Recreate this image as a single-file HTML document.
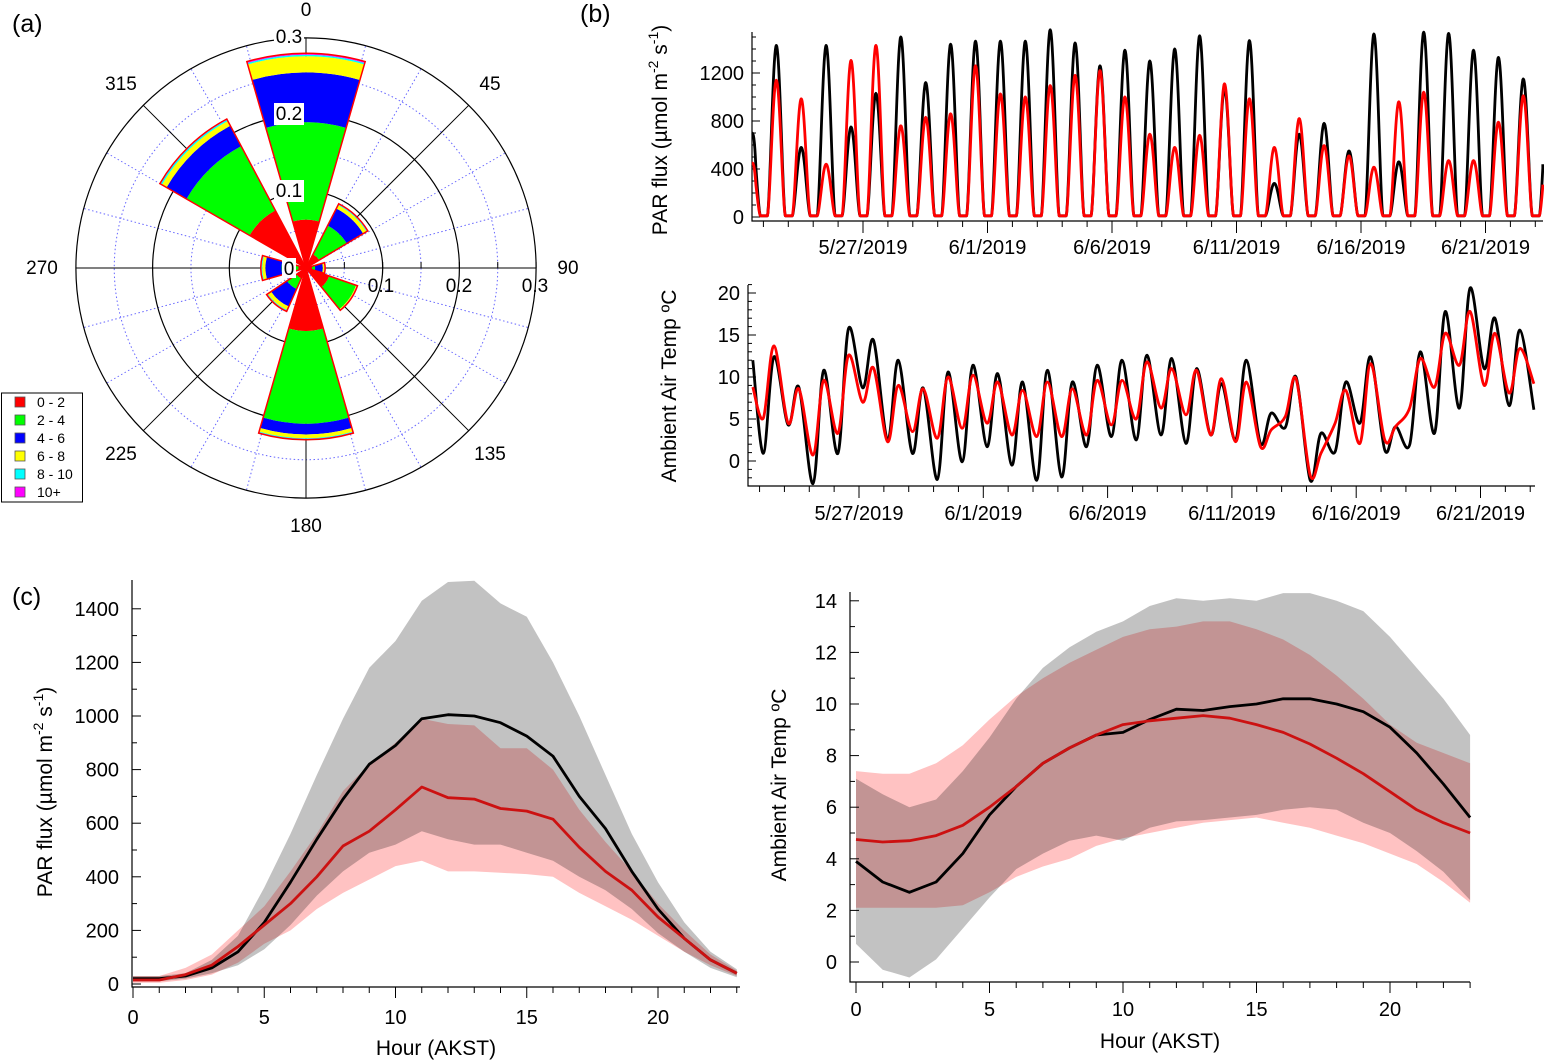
<!DOCTYPE html>
<html><head><meta charset="utf-8"><style>
html,body{margin:0;padding:0;background:#fff}
svg{display:block;font-family:"Liberation Sans",sans-serif}
</style></head><body>
<svg id="s" width="1544" height="1060" viewBox="0 0 1544 1060">
<g id="rose"></g>
<g id="par"></g>
<g id="tmp"></g>
<g id="dpar"></g>
<g id="dtmp"></g>
<text x="12" y="32" font-size="25">(a)</text>
<text x="580" y="22" font-size="25">(b)</text>
<text x="12" y="605" font-size="25">(c)</text>
</svg>
<script>
// ---------- DATA ----------
const roseAngles=[0,316,43,90,125,180,220,270];
const roseBin02=[0.063,0.085,0.02,0.008,0.032,0.082,0.015,0.01];
const roseBin24=[0.19,0.18,0.062,0.012,0.069,0.203,0.03,0.032];
const roseBin46=[0.255,0.21,0.087,0.022,0.069,0.217,0.055,0.053];
const roseBin68=[0.276,0.217,0.092,0.024,0.07,0.222,0.06,0.057];
const roseBin810=[0.278,0.219,0.093,0.024,0.07,0.223,0.061,0.058];
const roseBin10p=[0.28,0.22,0.094,0.025,0.071,0.224,0.062,0.059];
const roseLegend=["0 - 2","2 - 4","4 - 6","6 - 8","8 - 10","10+"];
const parBlackPeak=[1420,570,1420,740,1020,1490,1110,1430,1455,1455,1455,1550,1440,1250,1380,1290,1390,1500,1060,1460,270,680,770,540,1515,450,1530,1520,1380,1320,1140];
const parRedPeak=[1130,975,430,1295,1420,750,820,850,1250,1015,990,1085,1170,1210,990,680,570,670,1100,975,570,810,585,500,405,950,1030,460,460,780,1000];
const parEnds={blackStart:700,blackEnd:440,redStart:450,redEnd:270};
const tBlackMax=[12.4,8.8,10.8,15.8,14.4,12.0,8.7,10.6,11.4,10.4,9.4,10.8,9.4,11.4,12.0,12.6,12.2,11.0,9.2,12.0,5.7,10.0,3.3,9.4,12.4,4.1,13.0,17.8,20.6,17.0,15.6];
const tBlackMin=[0.9,4.3,-2.7,0.9,8.7,2.5,0.9,-2.2,-0.1,1.7,-0.5,-2.3,-1.9,1.7,2.9,2.5,3.1,2.1,3.1,2.5,2.1,4.0,-2.3,1.1,4.5,1.3,1.9,3.3,6.3,11.0,6.6];
const tRedMax=[13.7,8.6,9.6,12.6,11.1,9.0,8.6,10.0,10.2,9.4,8.4,9.4,8.6,9.6,9.6,11.8,11.0,10.8,9.8,9.4,3.7,9.8,0.9,8.4,11.6,4.1,12.2,15.2,17.8,15.2,13.4];
const tRedMin=[5.1,4.5,0.7,3.3,7.0,2.3,3.5,2.7,3.9,4.5,3.1,2.9,2.9,3.1,4.3,5.0,6.3,5.5,3.1,2.3,1.7,5.3,-1.7,4.5,2.1,2.5,6.3,8.8,11.4,9.0,8.1];
const tEnds={blackStart:12,blackEnd:6.1,redStart:8.8,redEnd:9.2};
const dateLabels=["5/27/2019","6/1/2019","6/6/2019","6/11/2019","6/16/2019","6/21/2019"];
const dateDays=[4,9,14,19,24,29];
const hours=[0,1,2,3,4,5,6,7,8,9,10,11,12,13,14,15,16,17,18,19,20,21,22,23];
const dParBlack=[20,20,30,60,120,230,380,540,690,820,890,990,1005,1000,975,925,850,700,580,420,280,170,90,40];
const dParRed=[15,15,35,70,140,220,300,400,515,570,650,735,695,690,655,645,615,510,420,350,250,170,90,40];
const dParGreyHi=[30,30,40,90,180,360,560,780,990,1180,1280,1430,1500,1505,1420,1370,1200,1000,780,560,380,230,120,55];
const dParGreyLo=[10,10,20,40,70,130,220,330,420,490,520,570,540,520,520,490,460,400,350,280,190,120,60,25];
const dParPinkHi=[30,30,60,110,200,290,420,560,720,820,900,990,970,965,880,880,800,650,530,420,300,200,110,50];
const dParPinkLo=[5,5,15,35,80,150,200,280,340,390,440,460,420,420,415,410,400,340,290,240,180,120,70,30];
const dParTicks=[0,200,400,600,800,1000,1200,1400];
const dTBlack=[3.9,3.1,2.7,3.1,4.2,5.7,6.8,7.7,8.3,8.8,8.9,9.4,9.8,9.75,9.9,10.0,10.2,10.2,10.0,9.7,9.1,8.1,6.9,5.6];
const dTRed=[4.75,4.65,4.7,4.9,5.3,6.0,6.8,7.7,8.3,8.8,9.2,9.35,9.45,9.55,9.45,9.2,8.9,8.45,7.9,7.3,6.6,5.9,5.4,5.0];
const dTGreyHi=[7.1,6.5,6.0,6.3,7.4,8.7,10.2,11.4,12.2,12.8,13.2,13.8,14.1,14.0,14.1,14.0,14.3,14.3,14.0,13.6,12.6,11.4,10.2,8.8];
const dTGreyLo=[0.7,-0.3,-0.6,0.1,1.3,2.5,3.6,4.2,4.7,4.9,4.7,5.2,5.45,5.5,5.6,5.7,5.9,6.0,5.9,5.4,5.0,4.3,3.5,2.4];
const dTPinkHi=[7.4,7.3,7.3,7.7,8.4,9.4,10.3,11.0,11.6,12.1,12.6,12.9,13.0,13.2,13.2,12.9,12.5,11.9,11.1,10.2,9.2,8.5,8.1,7.7];
const dTPinkLo=[2.1,2.1,2.1,2.1,2.2,2.7,3.3,3.7,4.0,4.5,4.8,5.0,5.2,5.4,5.5,5.6,5.4,5.2,4.9,4.6,4.2,3.8,3.1,2.3];
const dTTicks=[0,2,4,6,8,10,12,14];
const hourTicks=[0,5,10,15,20];

// ---------- HELPERS ----------
const NS="http://www.w3.org/2000/svg";
function mk(parent,tag,attrs){const e=document.createElementNS(NS,tag);for(const k in attrs)e.setAttribute(k,attrs[k]);parent.appendChild(e);return e;}
function txt(parent,x,y,s,size,anchor,extra){const t=mk(parent,'text',Object.assign({x:x,y:y,'font-size':size,'text-anchor':anchor||'middle'},extra||{}));t.textContent=s;return t;}
function spline(pts){
  let d='M'+pts[0][0].toFixed(1)+','+pts[0][1].toFixed(1);
  for(let i=0;i<pts.length-1;i++){
    const p0=pts[i-1]||pts[i],p1=pts[i],p2=pts[i+1],p3=pts[i+2]||p2;
    const c1=[p1[0]+(p2[0]-p0[0])/6,p1[1]+(p2[1]-p0[1])/6],c2=[p2[0]-(p3[0]-p1[0])/6,p2[1]-(p3[1]-p1[1])/6];
    d+='C'+c1[0].toFixed(1)+','+c1[1].toFixed(1)+' '+c2[0].toFixed(1)+','+c2[1].toFixed(1)+' '+p2[0].toFixed(1)+','+p2[1].toFixed(1);
  }return d;}

// ---------- WIND ROSE ----------
(function(){
const g=document.getElementById('rose');const cx=306,cy=268,R=767;
const rr=v=>v*R;
const pol=(a,r)=>[cx+r*Math.sin(a*Math.PI/180),cy-r*Math.cos(a*Math.PI/180)];
for(let a=0;a<360;a+=15){if(a%45===0)continue;const p=pol(a,rr(0.3));
 const l=mk(g,'line',{x1:cx,y1:cy,x2:p[0],y2:p[1],stroke:'#6666ff','stroke-width':1,'stroke-dasharray':'1.5,2.5'});
 }
[0.05,0.15,0.25].forEach(v=>{const c=mk(g,'circle',{cx:cx,cy:cy,r:rr(v),fill:'none',stroke:'#6666ff','stroke-width':1,'stroke-dasharray':'1.5,2.5'});
 });
[0.1,0.2,0.3].forEach(v=>{const c=mk(g,'circle',{cx:cx,cy:cy,r:rr(v),fill:'none',stroke:'#000','stroke-width':1.2});
 });
for(let a=0;a<180;a+=45){const p=pol(a,rr(0.3)),q=pol(a+180,rr(0.3));
 const l=mk(g,'line',{x1:q[0],y1:q[1],x2:p[0],y2:p[1],stroke:'#000','stroke-width':1});
 }
for(let v=0.05;v<=0.301;v+=0.05){const x=cx+rr(v);const l=mk(g,'line',{x1:x,y1:cy,x2:x,y2:cy-6,stroke:'#000','stroke-width':1});
 }
const bins=[roseBin02,roseBin24,roseBin46,roseBin68,roseBin810,roseBin10p];
const cols=['#ff0000','#00ff00','#0000ff','#ffff00','#00ffff','#ff00ff'];
const hw=16;
function wedge(a,r0,r1){const a0=a-hw,a1=a+hw;const p1=pol(a0,r0),p2=pol(a0,r1),p3=pol(a1,r1),p4=pol(a1,r0);
 return 'M'+p1+' L'+p2+' A'+r1+','+r1+' 0 0 1 '+p3+' L'+p4+(r0>0?' A'+r0+','+r0+' 0 0 0 '+p1:'')+'Z';}
roseAngles.forEach((a,i)=>{let prev=0;
 bins.forEach((b,j)=>{const v=b[i];if(v>prev){const p=mk(g,'path',{d:wedge(a,rr(prev),rr(v)),fill:cols[j],stroke:'none'});
  }prev=Math.max(prev,v);});
 const o=mk(g,'path',{d:wedge(a,0,rr(roseBin10p[i])),fill:'none',stroke:'#ff0000','stroke-width':1.5});
 });
const lab=[[0,306,16],[45,490,90],[90,568,274],[135,490,460],[180,306,532],[225,121,460],[270,42,274],[315,121,90]];
lab.forEach(l=>{const t=txt(g,l[1],l[2],String(l[0]),19);});
[['0.1',381],['0.2',459],['0.3',535]].forEach(l=>{const t=txt(g,l[1],292,l[0],19);});
[['0.3',43],['0.2',120],['0.1',197]].forEach(l=>{const r=mk(g,'rect',{x:274,y:l[1]-17,width:30,height:22,fill:'#fff'});
 
 const t=txt(g,289,l[1],l[0],19);});
const zb=mk(g,'rect',{x:282,y:258,width:14,height:20,fill:'#fff'});
const z=txt(g,289,275,'0',19);
const lg=mk(g,'g',{});
const box=mk(lg,'rect',{x:1.5,y:393,width:81,height:109,fill:'#fff',stroke:'#000','stroke-width':1});

roseLegend.forEach((s,i)=>{const y=402+i*18;const r=mk(lg,'rect',{x:15,y:y-5,width:10,height:10,fill:cols[i],stroke:'#555','stroke-width':0.8});
 
 const t=txt(lg,37,y+5,s,14,'start');});
})();

// ---------- TIME SERIES ----------
function tsAxes(g,x0,x1,yTop,yAxis,X,Y,ticks,minor,labelY){
 const a=mk(g,'path',{d:'M'+x0+','+yTop+' L'+x0+','+yAxis+' L'+x1+','+yAxis,fill:'none',stroke:'#000','stroke-width':1.2});
 
 minor.forEach(v=>{const l=mk(g,'line',{x1:x0,x2:x0+4,y1:Y(v),y2:Y(v),stroke:'#000','stroke-width':1});});
 ticks.forEach(v=>{const l=mk(g,'line',{x1:x0,x2:x0+8,y1:Y(v),y2:Y(v),stroke:'#000','stroke-width':1});
  const t=txt(g,x0-8,Y(v)+7,String(v),20,'end');});
 for(let d=0;d<=31;d++){const x=X(d);if(x<x0||x>x1)continue;const major=dateDays.indexOf(d)>=0;
  const l=mk(g,'line',{x1:x,x2:x,y1:yAxis,y2:yAxis+(major?12:6),stroke:'#000','stroke-width':1});}
 dateDays.forEach((d,i)=>{const t=txt(g,X(d),labelY,dateLabels[i],20);});
}
(function(){
const g=document.getElementById('par');
const X=d=>863+(d-4)*24.9, Y=v=>217-v*0.12;
const mn=[];for(let v=0;v<=1500;v+=100)mn.push(v);
tsAxes(g,752,1543,32,221,X,Y,[0,400,800,1200],mn,254);
function series(peaks,s,e,col,name){
 const pts=[];const n=peaks.length;
 for(let t=-0.46;t<=31.3;t+=0.02){
  const d=Math.floor(t),f=t-d;let v;
  const pk=d<0?s:(d>=n?e*2.2:peaks[d]);
  if(f>0.16&&f<0.88){const u=Math.sin(Math.PI*(f-0.16)/0.72);v=pk*Math.pow(u,1.6);}else v=0;
  v+=10;
  if(t<-0.3)v=s*(1-(t+0.46)/0.16)+v*((t+0.46)/0.16);
  pts.push(X(t).toFixed(1)+','+Y(v).toFixed(1));
 }
 pts.push(X(31.3).toFixed(1)+','+Y(e).toFixed(1));
 const p=mk(g,'polyline',{points:pts.join(' '),fill:'none',stroke:col,'stroke-width':2.8,'stroke-linejoin':'round'});
 }
series(parBlackPeak,parEnds.blackStart,parEnds.blackEnd,'#000','par-line-black');
series(parRedPeak,parEnds.redStart,parEnds.redEnd,'#ff0000','par-line-red');
const yl=mk(g,'text',{transform:'translate(667,130) rotate(-90)','font-size':21,'text-anchor':'middle'});
yl.innerHTML='PAR flux (µmol m<tspan dy="-9" font-size="14">-2</tspan><tspan dy="9"> s</tspan><tspan dy="-9" font-size="14">-1</tspan><tspan dy="9">)</tspan>';

})();
(function(){
const g=document.getElementById('tmp');
const X=d=>859+(d-4)*24.86, Y=v=>461-v*8.4;
const mn=[];for(let v=-2;v<=21;v++)mn.push(v);
tsAxes(g,748,1535,285,486,X,Y,[0,5,10,15,20],mn,520);
function series(mx,mi,s,e,col,name){const pts=[[X(-0.27),Y(s)]];
 mx.forEach((m,d)=>{pts.push([X(d+0.15),Y(mi[d])],[X(d+0.58),Y(m)]);});
 pts.push([X(31.15),Y(e)]);
 const p=mk(g,'path',{d:spline(pts),fill:'none',stroke:col,'stroke-width':2.8,'stroke-linejoin':'round'});
 }
series(tBlackMax,tBlackMin,tEnds.blackStart,tEnds.blackEnd,'#000','temp-line-black');
series(tRedMax,tRedMin,tEnds.redStart,tEnds.redEnd,'#ff0000','temp-line-red');
const yl=txt(g,0,0,'Ambient Air Temp ºC',21,'middle',{transform:'translate(676,386) rotate(-90)'});

})();

// ---------- DIURNAL ----------
function diurnal(gid,x0,x1,yTop,yAxis,X,Y,ticks,minorStep,vmax,series,ylab,ylx,yly,xlY,tickLY){
 const g=document.getElementById(gid);
 const band=(hi,lo,col,name)=>{let d='';hours.forEach((h,i)=>{d+=(i?'L':'M')+X(h).toFixed(1)+','+Y(hi[i]).toFixed(1);});
  for(let i=hours.length-1;i>=0;i--)d+='L'+X(hours[i]).toFixed(1)+','+Y(lo[i]).toFixed(1);
  const p=mk(g,'path',{d:d+'Z',fill:col,stroke:'none',style:'mix-blend-mode:multiply'});};
 band(series.gh,series.gl,'#c2c2c2','band-grey');
 band(series.ph,series.pl,'#ffc2c2','band-pink');
 const line=(v,col,name)=>{let d='';hours.forEach((h,i)=>{d+=(i?'L':'M')+X(h).toFixed(1)+','+Y(v[i]).toFixed(1);});
  const p=mk(g,'path',{d:d,fill:'none',stroke:col,'stroke-width':2.8,'stroke-linejoin':'round'});};
 line(series.b,'#000','mean-line-black');line(series.r,'#cc1111','mean-line-red');
 const a=mk(g,'path',{d:'M'+x0+','+yTop+' L'+x0+','+yAxis+' L'+x1+','+yAxis,fill:'none',stroke:'#000','stroke-width':1.2});
 
 for(let v=0;v<=vmax;v+=minorStep){const l=mk(g,'line',{x1:x0,x2:x0+(ticks.indexOf(v)>=0?9:5),y1:Y(v),y2:Y(v),stroke:'#000','stroke-width':1});}
 ticks.forEach(v=>{const t=txt(g,x0-13,Y(v)+7,String(v),20,'end');});
 hours.forEach(h=>{const M=hourTicks.indexOf(h)>=0;const l=mk(g,'line',{x1:X(h),x2:X(h),y1:yAxis,y2:yAxis+(M?11:6),stroke:'#000','stroke-width':1});});
 hourTicks.forEach(h=>{const t=txt(g,X(h),tickLY,String(h),20);});
 const xl=txt(g,(x0+x1)/2,xlY,'Hour (AKST)',21);
 const yl=mk(g,'text',{transform:'translate('+ylx+','+yly+') rotate(-90)','font-size':21,'text-anchor':'middle'});yl.innerHTML=ylab;
 
}
diurnal('dpar',132,740,580,987,h=>133+h*26.25,v=>984-v*0.268,dParTicks,100,1400,
 {b:dParBlack,r:dParRed,gh:dParGreyHi,gl:dParGreyLo,ph:dParPinkHi,pl:dParPinkLo},
 'PAR flux (µmol m<tspan dy="-9" font-size="14">-2</tspan><tspan dy="9"> s</tspan><tspan dy="-9" font-size="14">-1</tspan><tspan dy="9">)</tspan>',52,792,1055,1024);
diurnal('dtmp',850,1470,592,982,h=>856+h*26.7,v=>962-v*25.8,dTTicks,1,14,
 {b:dTBlack,r:dTRed,gh:dTGreyHi,gl:dTGreyLo,ph:dTPinkHi,pl:dTPinkLo},
 'Ambient Air Temp ºC',786,785,1048,1016);
</script>
</body></html>
